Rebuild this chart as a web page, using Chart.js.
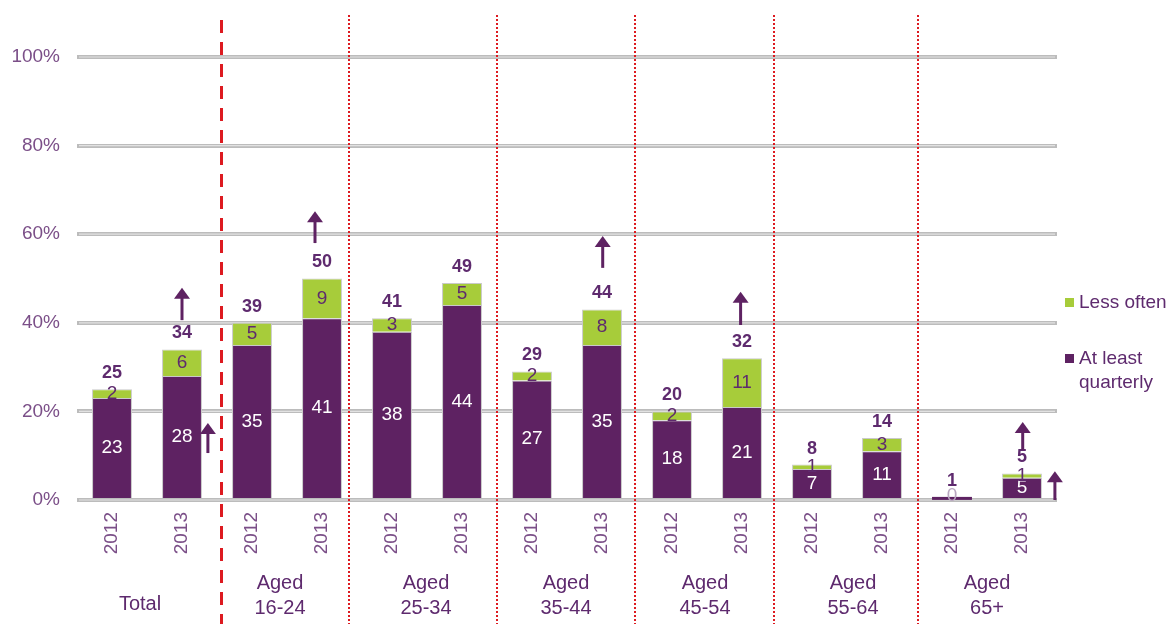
<!DOCTYPE html>
<html>
<head>
<meta charset="utf-8">
<script src="https://cdn.jsdelivr.net/npm/chart.js@4.4.1/dist/chart.umd.min.js"></script>
<style>
  html, body { margin: 0; padding: 0; background: #fff; }
  #wrap { width: 1173px; height: 624px; }
</style>
</head>
<body>
<div id="wrap"><canvas id="chart"></canvas></div>
<script>
// BEGIN: DATA
const years = ["2012", "2013", "2012", "2013", "2012", "2013", "2012", "2013", "2012", "2013", "2012", "2013", "2012", "2013"];
const groupNames = [["Total"], ["Aged", "16-24"], ["Aged", "25-34"], ["Aged", "35-44"], ["Aged", "45-54"], ["Aged", "55-64"], ["Aged", "65+"]];
const atLeastQuarterly = [23, 28, 35, 41, 38, 44, 27, 35, 18, 21, 7, 11, 0.7, 5];
const lessOften = [2, 6, 5, 9, 3, 5, 2, 8, 2, 11, 1, 3, 0, 1];
const totals = [25, 34, 39, 50, 41, 49, 29, 44, 20, 32, 8, 14, 1, 5];
const yTicks = [0, 20, 40, 60, 80, 100];
// END: DATA

const PURPLE = "#5e2262";
const GREEN = "#a7cc3a";
const TEXT = "#5e2a6e";
const TICK = "#7b4f88";
const FONT = "'Liberation Sans', Arial, sans-serif";

// significance arrows: bar index, from/to in % units, sideways shift as part of a category
const arrows = [
  { bar: 1, from: 40.6, to: 47.9, shift: 0 },
  { bar: 1, from: 10.6, to: 17.4, shift: 0.37 },
  { bar: 3, from: 58, to: 65.2, shift: -0.1 },
  { bar: 7, from: 52.4, to: 59.6, shift: 0.01 },
  { bar: 9, from: 39.5, to: 47, shift: -0.02 },
  { bar: 13, from: 11.3, to: 17.6, shift: 0.01 },
  { bar: 13, from: 0, to: 6.5, shift: 0.47 },
];

// red separators between groups
const dividers = [
  { after: 1, shift: 0.557, dashed: true },
  { after: 3, shift: 0.386 },
  { after: 5, shift: 0.5 },
  { after: 7, shift: 0.47 },
  { after: 9, shift: 0.457 },
  { after: 11, shift: 0.514 },
];
const groupNudge = [-7, -7, -1, -1, -2, 6, 0];

const step = (x) => x.getPixelForValue(1) - x.getPixelForValue(0);

const gridPlugin = {
  id: "gridShine",
  beforeDatasetsDraw(chart) {
    const { ctx, chartArea, scales } = chart;
    ctx.save();
    ctx.strokeStyle = "#e2e2e2";
    ctx.lineWidth = 1.2;
    yTicks.forEach((t) => {
      const y = scales.y.getPixelForValue(t);
      ctx.beginPath();
      ctx.moveTo(chartArea.left + 2, y);
      ctx.lineTo(chartArea.right - 2, y);
      ctx.stroke();
    });
    ctx.restore();
  },
};

const labelsPlugin = {
  id: "barTexts",
  afterDatasetsDraw(chart) {
    const { ctx, scales } = chart;
    const x = scales.x;
    const y = scales.y;
    ctx.save();
    ctx.textAlign = "center";
    ctx.textBaseline = "middle";

    const purpleMeta = chart.getDatasetMeta(0);
    const greenMeta = chart.getDatasetMeta(1);

    purpleMeta.data.forEach((bar, i) => {
      const v = atLeastQuarterly[i];
      ctx.font = "19px " + FONT;
      if (v < 1) {
        // thin sliver: draw it over the base line, label sits on it
        ctx.fillStyle = PURPLE;
        ctx.fillRect(bar.x - bar.width / 2, bar.y, bar.width, Math.max(bar.base - bar.y, 3));
        ctx.fillStyle = "#b9a7c0";
        ctx.fillText(String(Math.trunc(v)), bar.x, bar.base - 2);
      } else {
        ctx.fillStyle = "#ffffff";
        ctx.fillText(String(Math.trunc(v)), bar.x, (bar.y + bar.base) / 2);
      }
    });

    greenMeta.data.forEach((bar, i) => {
      const v = lessOften[i];
      if (!v) return;
      ctx.font = "19px " + FONT;
      ctx.fillStyle = TEXT;
      ctx.fillText(String(v), bar.x, (bar.y + bar.base) / 2);
    });

    greenMeta.data.forEach((bar, i) => {
      ctx.font = "bold 18px " + FONT;
      ctx.fillStyle = TEXT;
      ctx.fillText(String(totals[i]), bar.x, bar.y - 16);
    });

    // arrows
    ctx.strokeStyle = PURPLE;
    ctx.fillStyle = PURPLE;
    ctx.lineWidth = 3;
    arrows.forEach((a) => {
      const ax = x.getPixelForValue(a.bar) + a.shift * step(x);
      const y0 = y.getPixelForValue(a.from);
      const y1 = y.getPixelForValue(a.to);
      ctx.beginPath();
      ctx.moveTo(ax, y0);
      ctx.lineTo(ax, y1 + 9);
      ctx.stroke();
      ctx.beginPath();
      ctx.moveTo(ax, y1);
      ctx.lineTo(ax - 8, y1 + 11);
      ctx.lineTo(ax + 8, y1 + 11);
      ctx.closePath();
      ctx.fill();
    });
    ctx.restore();
  },
  afterDraw(chart) {
    const { ctx, chartArea, scales } = chart;
    const x = scales.x;
    ctx.save();

    // separators
    ctx.strokeStyle = "#dd1a20";
    dividers.forEach((d) => {
      const base = Math.round(x.getPixelForValue(d.after) + d.shift * step(x));
      ctx.beginPath();
      if (d.dashed) {
        ctx.lineWidth = 3;
        ctx.setLineDash([13, 9]);
        ctx.moveTo(base + 0.5, 20);
        ctx.lineTo(base + 0.5, chart.height);
      } else {
        ctx.lineWidth = 2;
        ctx.setLineDash([2, 2]);
        ctx.moveTo(base, 15);
        ctx.lineTo(base, chart.height);
      }
      ctx.stroke();
    });
    ctx.setLineDash([]);

    // group names under the years
    ctx.font = "20px " + FONT;
    ctx.fillStyle = TEXT;
    ctx.textAlign = "center";
    ctx.textBaseline = "middle";
    groupNames.forEach((lines, g) => {
      const gx = (x.getPixelForValue(g * 2) + x.getPixelForValue(g * 2 + 1)) / 2 + groupNudge[g];
      if (lines.length === 1) {
        ctx.fillText(lines[0], gx, 604);
      } else {
        ctx.fillText(lines[0], gx, 583);
        ctx.fillText(lines[1], gx, 608);
      }
    });

    // legend on the right
    const lx = chartArea.right + 8;
    const items = [
      { color: GREEN, lines: [chart.data.datasets[1].label], top: 298 },
      { color: PURPLE, lines: ["At least", "quarterly"], top: 354 },
    ];
    ctx.textAlign = "left";
    ctx.font = "19px " + FONT;
    items.forEach((it) => {
      ctx.fillStyle = it.color;
      ctx.fillRect(lx, it.top, 9, 9);
      ctx.fillStyle = TEXT;
      it.lines.forEach((t, k) => ctx.fillText(t, lx + 14, it.top + 5 + k * 24));
    });
    ctx.restore();
  },
};

new Chart(document.getElementById("chart"), {
  type: "bar",
  data: {
    labels: years,
    datasets: [
      {
        label: "At least quarterly",
        data: atLeastQuarterly,
        backgroundColor: PURPLE,
        borderColor: "#c9c9c9",
        borderWidth: 1,
      },
      {
        label: "Less often",
        data: lessOften,
        backgroundColor: GREEN,
        borderColor: "#c9c9c9",
        borderWidth: 1,
      },
    ],
  },
  options: {
    responsive: true,
    maintainAspectRatio: false,
    animation: false,
    events: [],
    layout: { padding: { top: 57, right: 116, left: 0, bottom: 0 } },
    datasets: { bar: { categoryPercentage: 1, barPercentage: 0.57 } },
    plugins: { legend: { display: false }, tooltip: { enabled: false } },
    scales: {
      x: {
        stacked: true,
        grid: { display: false, drawTicks: false },
        border: { display: false },
        ticks: {
          minRotation: 90,
          maxRotation: 90,
          padding: 12,
          color: TICK,
          font: { family: FONT, size: 19 },
        },
        afterFit: (s) => { s.height = 124; },
      },
      y: {
        stacked: true,
        min: 0,
        max: 100,
        grid: { color: "#bcbcbc", lineWidth: 4, drawTicks: false },
        border: { display: false },
        ticks: {
          stepSize: 20,
          padding: 17,
          color: TICK,
          font: { family: FONT, size: 19 },
          callback: (v) => v + "%",
        },
        afterFit: (s) => { s.width = 77; },
      },
    },
  },
  plugins: [gridPlugin, labelsPlugin],
});
</script>
</body>
</html>
